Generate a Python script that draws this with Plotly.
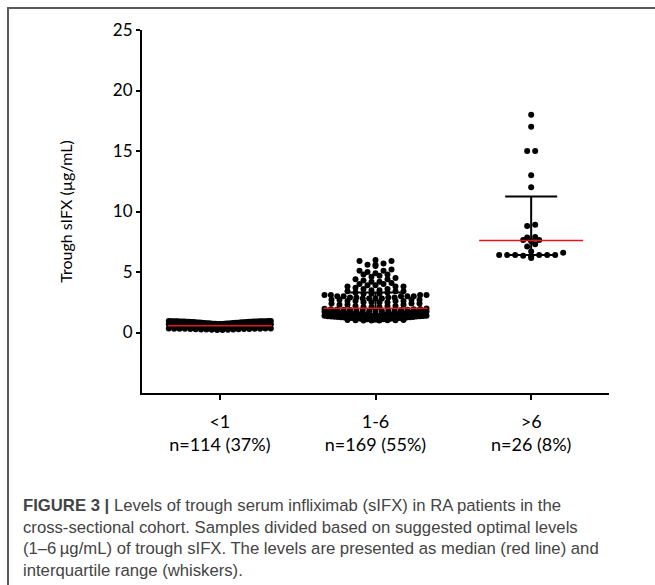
import html
import math

import plotly.graph_objects as go

# groups of trough sIFX (ug/mL)
categories = ["<1", "1-6", ">6"]
counts = [114, 169, 26]
percents = [37, 55, 8]

low_values = [
    0.20, 0.21, 0.22, 0.23, 0.24, 0.25, 0.25, 0.26, 0.27, 0.28, 0.28, 0.29, 0.30, 0.30, 0.31, 0.32, 0.32, 0.33, 0.33,
    0.34, 0.35, 0.35, 0.36, 0.37, 0.38, 0.38, 0.39, 0.40, 0.41, 0.41, 0.42, 0.43, 0.44, 0.44, 0.45, 0.46, 0.46, 0.47,
    0.48, 0.49, 0.50, 0.50, 0.51, 0.52, 0.52, 0.53, 0.54, 0.55, 0.55, 0.56, 0.57, 0.58, 0.58, 0.59, 0.60, 0.60, 0.61,
    0.62, 0.63, 0.63, 0.64, 0.65, 0.66, 0.66, 0.67, 0.68, 0.69, 0.70, 0.70, 0.71, 0.72, 0.72, 0.73, 0.74, 0.75, 0.75,
    0.76, 0.77, 0.77, 0.78, 0.79, 0.80, 0.80, 0.81, 0.82, 0.82, 0.83, 0.84, 0.85, 0.85, 0.86, 0.86, 0.87, 0.88, 0.88,
    0.89, 0.89, 0.90, 0.90, 0.90, 0.91, 0.91, 0.91, 0.92, 0.92, 0.92, 0.93, 0.93, 0.93, 0.94, 0.94, 0.95, 0.95, 0.95,
]

mid_values = [
    6.0, 5.9, 5.9, 5.7, 5.6, 5.6, 5.5, 5.2, 5.1, 5.1, 5.0, 4.9, 4.8, 4.8, 4.7, 4.6, 4.5, 4.4, 4.4, 4.3,
    4.2, 4.2, 4.1, 4.0, 4.0, 3.9, 3.9, 3.8, 3.8, 3.8, 3.7, 3.6, 3.6, 3.5, 3.5, 3.4, 3.4, 3.4, 3.3, 3.3,
    3.2, 3.2, 3.2, 3.1, 3.1, 3.1, 3.1, 3.0, 3.0, 3.0, 3.0, 3.0, 2.9, 2.9, 2.9, 2.9, 2.8, 2.8, 2.8, 2.8,
    2.7, 2.7, 2.7, 2.7, 2.6, 2.6, 2.6, 2.6, 2.5, 2.5, 2.5, 2.5, 2.4, 2.4, 2.4, 2.3, 2.3, 2.3, 2.2, 2.2,
    2.2, 2.1, 2.1, 2.1,
    1.98, 1.96, 1.95, 1.93, 1.92, 1.90, 1.89, 1.87, 1.86, 1.85, 1.83, 1.82, 1.80, 1.79, 1.78, 1.76, 1.75, 1.74, 1.72, 1.71,
    1.70, 1.68, 1.67, 1.66, 1.65, 1.63, 1.62, 1.61, 1.60, 1.58, 1.57, 1.56, 1.55, 1.53, 1.52, 1.51, 1.50, 1.48, 1.47, 1.46,
    1.45, 1.44, 1.42, 1.41, 1.40, 1.39, 1.38, 1.36, 1.35, 1.34, 1.33, 1.32, 1.30, 1.29, 1.28, 1.27, 1.26, 1.25, 1.24, 1.22,
    1.21, 1.20, 1.19, 1.18, 1.17, 1.16, 1.15, 1.14, 1.13, 1.12, 1.11, 1.10, 1.09, 1.08, 1.07, 1.06, 1.05, 1.04, 1.03, 1.02,
    1.01, 1.01, 1.00, 1.00, 1.00,
]

high_values = [
    18.0, 17.0, 15.0, 15.0, 13.0, 12.0, 8.9, 8.8, 7.9, 7.85, 7.65, 7.65, 7.55,
    7.3, 7.1, 6.7, 6.6, 6.4, 6.4, 6.4, 6.4, 6.4, 6.4, 6.35, 6.3, 6.15,
]

medians = [0.55, 2.0, 7.6]
q1 = [0.35, 1.45, 6.4]
q3 = [0.80, 3.3, 11.25]

caption = ("<b>FIGURE 3 |</b> Levels of trough serum infliximab (sIFX) in RA patients in the<br>"
           "cross-sectional cohort. Samples divided based on suggested optimal levels<br>"
           "(1\u20136\u2009\u00b5g/mL) of trough sIFX. The levels are presented as median (red line) and<br>"
           "interquartile range (whiskers).")

W, H = 655, 585
L, R, T, B = 142, 46, 30, 192
YMIN, YMAX = -5, 25
PX_PER_CAT = (W - L - R) / 3.0


def swarm_x(values, center, row=0.35, step_px=8, half_px=51):
    # GraphPad-like rows: bin by value, spread each row around the centre
    rows = {}
    for v in sorted(values):
        rows.setdefault(math.floor(v / row), []).append(v)
    xs, ys = [], []
    step = step_px / PX_PER_CAT
    half = half_px / PX_PER_CAT
    for vals in rows.values():
        k = len(vals)
        s = step if k < 2 else min(step, 2 * half / (k - 1))
        offs = sorted([(i - (k - 1) / 2) * s for i in range(k)], key=abs)
        for v, o in zip(vals, offs):
            xs.append(center + o)
            ys.append(v)
    return xs, ys


def px_x(p):
    return (p - L) / (W - L - R)


def px_y(p):
    return (H - B - p) / (H - T - B)


fig = go.Figure()

for i, vals in enumerate([low_values, mid_values, high_values]):
    xs, ys = swarm_x(vals, i)
    fig.add_trace(go.Scatter(x=xs, y=ys, mode="markers",
                             marker=dict(size=6, color="black"), showlegend=False))

idx = list(range(len(categories)))
fig.add_trace(go.Scatter(
    x=idx, y=medians, mode="markers", marker=dict(size=1, color="rgba(0,0,0,0)"),
    error_y=dict(type="data", symmetric=False,
                 array=[b - m for b, m in zip(q3, medians)],
                 arrayminus=[m - a for a, m in zip(q1, medians)],
                 color="black", thickness=2, width=26),
    showlegend=False))
fig.add_trace(go.Scatter(
    x=idx, y=medians, mode="markers", marker=dict(size=1, color="rgba(0,0,0,0)"),
    error_x=dict(type="constant", value=52 / PX_PER_CAT, color="#e8141c", thickness=1.5, width=0),
    showlegend=False))

ticktext = [f"{html.escape(c)}<br>n={n} ({p}%)" for c, n, p in zip(categories, counts, percents)]

fig.update_layout(
    width=W, height=H,
    margin=dict(l=L, r=R, t=T, b=B),
    plot_bgcolor="white", paper_bgcolor="white",
    font=dict(family="Lato", size=18, color="black"),
    xaxis=dict(range=[-0.5, 2.5], tickvals=idx, ticktext=ticktext, showline=True, linewidth=2,
               linecolor="black", ticks="outside", ticklen=5, tickwidth=2, tickcolor="black",
               ticklabelstandoff=6, showgrid=False, zeroline=False),
    yaxis=dict(range=[YMIN, YMAX], tickvals=[0, 5, 10, 15, 20, 25], showline=True, linewidth=2,
               linecolor="black", ticks="outside", ticklen=4, tickwidth=1.5, tickcolor="black",
               tickfont=dict(size=17), showgrid=False, zeroline=False,
               title=dict(text="Trough sIFX (\u00b5g/mL)", font=dict(size=16), standoff=36)),
)

# frame round the figure panel
fig.add_shape(type="rect", xref="paper", yref="paper",
              x0=px_x(8), x1=px_x(W + 10), y0=px_y(H + 10), y1=px_y(8),
              line=dict(color="#5a5a5a", width=2), fillcolor="rgba(0,0,0,0)", layer="below")

fig.add_annotation(text=caption, xref="paper", yref="paper", x=px_x(21), y=px_y(494),
                   xanchor="left", yanchor="top", align="left", showarrow=False,
                   font=dict(family="Liberation Sans", size=16.7, color="#444444"))

fig.write_html("out.html", config={"displayModeBar": False},
               post_script="document.body.style.margin='0';")
